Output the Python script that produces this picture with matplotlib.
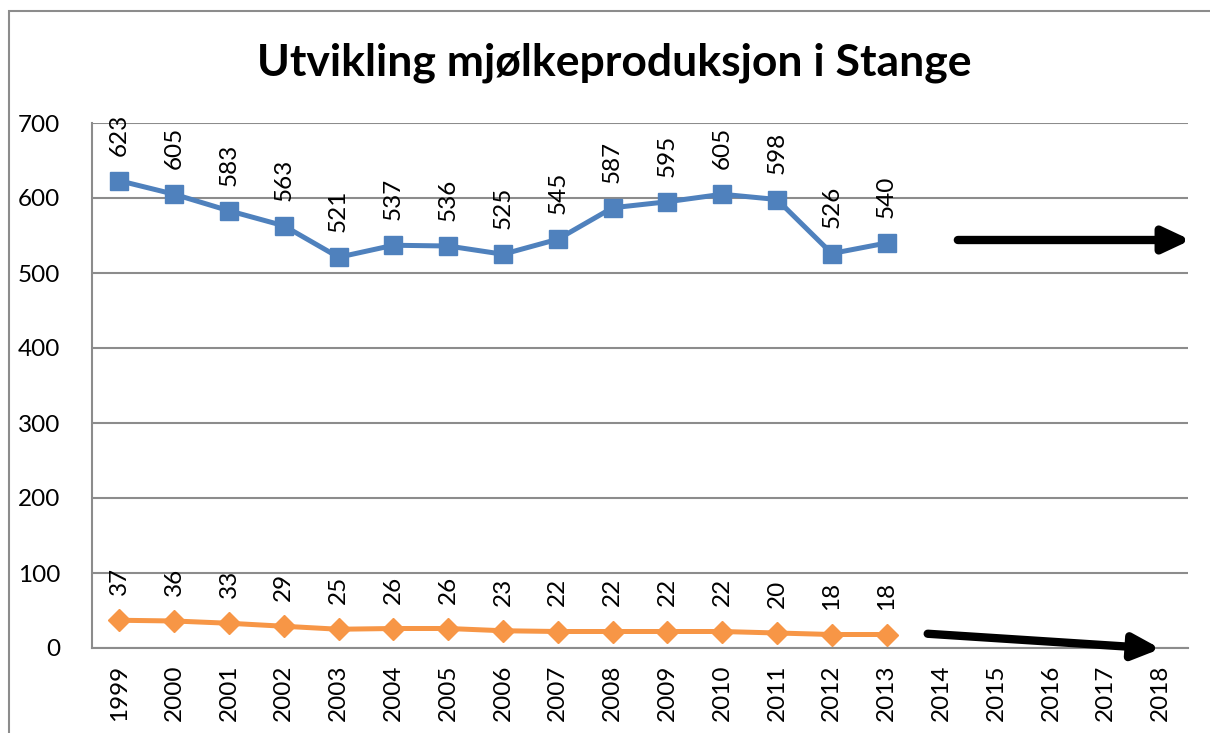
import matplotlib
matplotlib.use("Agg")
import matplotlib.pyplot as plt
from matplotlib.patches import Rectangle

# data
years = [str(y) for y in range(1999, 2019)]
melk = [623, 605, 583, 563, 521, 537, 536, 525, 545, 587, 595, 605, 598, 526, 540]
bruk = [37, 36, 33, 29, 25, 26, 26, 23, 22, 22, 22, 22, 20, 18, 18]
# trendpiler (start, slutt) i dataenheter
pil_melk = ((15.3, 544), (19.55, 544))
pil_bruk = ((14.75, 19), (19.0, -1))

BLUE = "#4F81BD"
ORANGE = "#F79646"
GRID = "#8c8c8c"
FS = 17.5

plt.rcParams["font.family"] = ["Lato", "DejaVu Sans"]

fig = plt.figure(figsize=(12.1, 7.33), dpi=100)
ax = fig.add_axes([92 / 1210, 1 - 648 / 733, (1188 - 92) / 1210, (648 - 123) / 733])

# ramme rundt hele diagrammet
fig.patches.append(Rectangle((9 / 1210, -0.1), 1.2, 1 - 11 / 733 + 0.1,
                             transform=fig.transFigure, fill=False,
                             edgecolor="#8c8c8c", linewidth=1.5))

x1 = list(range(len(melk)))
ax.plot(x1, melk, color=BLUE, lw=3.6, marker="s", ms=13, zorder=3)
ax.plot(x1, bruk, color=ORANGE, lw=3.6, marker="D", ms=11, zorder=3)

for xi, v in zip(x1, melk):
    ax.annotate(str(v), (xi, v), xytext=(0, 18), textcoords="offset points",
                rotation=90, ha="center", va="bottom", fontsize=FS)
for xi, v in zip(x1, bruk):
    ax.annotate(str(v), (xi, v), xytext=(0, 18), textcoords="offset points",
                rotation=90, ha="center", va="bottom", fontsize=FS)

for (s, e) in (pil_melk, pil_bruk):
    ax.annotate("", xy=e, xytext=s,
                arrowprops=dict(arrowstyle="-|>,head_length=1.6,head_width=0.75",
                                color="black", lw=6, shrinkA=0, shrinkB=0),
                annotation_clip=False, zorder=4)

ax.set_xlim(-0.5, len(years) - 0.5)
ax.set_ylim(0, 700)
ax.set_xticks(range(len(years)))
ax.set_xticklabels(years, rotation=90, fontsize=FS)
ax.set_yticks(range(0, 701, 100))
ax.tick_params(axis="y", labelsize=FS, length=0, pad=23)
ax.tick_params(axis="x", length=0, pad=12)
ax.grid(axis="y", color=GRID, lw=1.5)
ax.set_axisbelow(True)
for side in ("top", "right"):
    ax.spines[side].set_visible(False)
for side in ("left", "bottom"):
    ax.spines[side].set_color(GRID)
    ax.spines[side].set_linewidth(1.5)

fig.text(614 / 1210, 1 - 63 / 733, "Utvikling mjølkeproduksjon i Stange",
         ha="center", va="center", fontsize=32, fontweight="bold")

fig.savefig("out.png", dpi=100)
